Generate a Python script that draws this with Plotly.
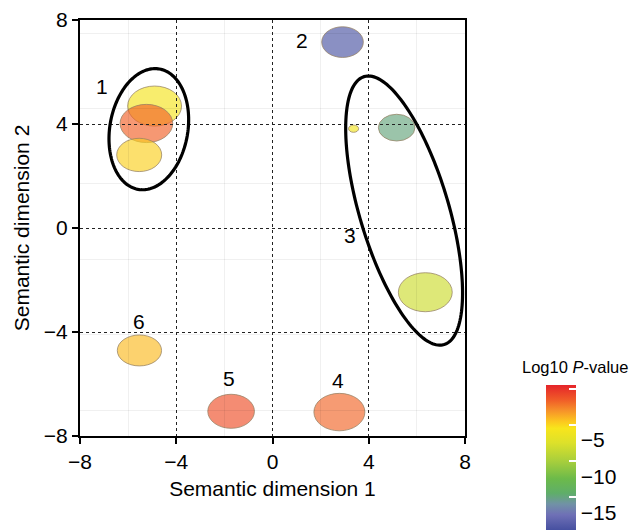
import numpy as np
import plotly.graph_objects as go
from plotly.colors import sample_colorscale

# ---------------- data ----------------
term_x = [-4.90, -5.24, -5.54, 2.91, 3.37, 5.16, 6.35, -5.53, -1.72, 2.78]
term_y = [4.69, 4.02, 2.81, 7.15, 3.82, 3.86, -2.47, -4.71, -7.05, -7.08]
term_w = [2.24, 2.19, 1.87, 1.73, 0.42, 1.52, 2.24, 1.84, 1.94, 2.12]
term_h = [1.54, 1.47, 1.28, 1.18, 0.28, 1.03, 1.50, 1.19, 1.31, 1.44]
log10_p = [-5.8, -1.7, -4.8, -19.3, -6.0, -15.0, -8.3, -4.2, -1.1, -1.8]

cluster_labels = ["1", "2", "3", "4", "5", "6"]
label_x = [-7.1, 1.24, 3.22, 2.71, -1.81, -5.55]
label_y = [5.46, 7.23, -0.27, -5.85, -5.78, -3.60]

outline_cx = [-5.14, 5.47]
outline_cy = [3.80, 0.67]
outline_a = [2.54, 5.81]
outline_b = [1.62, 1.85]
outline_angle = [80.0, 106.6]

x_ticks = [-8, -4, 0, 4, 8]
y_ticks = [-8, -4, 0, 4, 8]
cbar_ticks = [-15, -10, -5, 0]

CMIN, CMAX = -19.6, 0.5

# ---------------- style ----------------
W, H = 631, 530
ML, MR, MT, MB = 80, 166, 20, 94
SX = (W - ML - MR) / 16.0
SY = (H - MT - MB) / 16.0
FONT = "Liberation Sans, Arial, Helvetica, sans-serif"
FS = 21


def hex_rgb(h):
    h = h.lstrip("#")
    return "rgb(%d,%d,%d)" % (int(h[0:2], 16), int(h[2:4], 16), int(h[4:6], 16))


stops = [(-19.6, "#4650a0"), (-17.5, "#6f70b6"), (-16.0, "#7192a6"),
         (-14.5, "#5fae69"), (-12.5, "#6cba4a"), (-10.0, "#a9cf3c"),
         (-7.5, "#dde12a"), (-5.5, "#f8e51c"), (-4.5, "#fcc51f"),
         (-3.0, "#f6902a"), (-1.5, "#f05a28"), (0.5, "#e5242a")]
colorscale = [[(v - CMIN) / (CMAX - CMIN), hex_rgb(c)] for v, c in stops]

fracs = [(v - CMIN) / (CMAX - CMIN) for v in log10_p]
fills = sample_colorscale(colorscale, fracs)


def with_alpha(rgb, a):
    return rgb.replace("rgb(", "rgba(").replace(")", ",%.2f)" % a)


shapes = []
for x, y, w, h, c in zip(term_x, term_y, term_w, term_h, fills):
    shapes.append(dict(type="circle", xref="x", yref="y",
                       x0=x - w / 2, x1=x + w / 2, y0=y - h / 2, y1=y + h / 2,
                       fillcolor=with_alpha(c, 0.65),
                       line=dict(color="rgba(150,130,100,0.75)", width=1),
                       layer="below"))

t = np.linspace(0, 2 * np.pi, 181)
for cx, cy, a, b, ang in zip(outline_cx, outline_cy, outline_a, outline_b, outline_angle):
    th = np.deg2rad(ang)
    dxp = a * SX * np.cos(t) * np.cos(th) - b * SX * np.sin(t) * np.sin(th)
    dyp = a * SX * np.cos(t) * np.sin(th) + b * SX * np.sin(t) * np.cos(th)
    px = cx + dxp / SX
    py = cy + dyp / SY
    path = "M " + " L ".join("%.4f,%.4f" % (u, v) for u, v in zip(px, py)) + " Z"
    shapes.append(dict(type="path", xref="x", yref="y", path=path,
                       line=dict(color="black", width=3.2), layer="above"))

fig = go.Figure()
fig.add_trace(go.Scatter(
    x=term_x, y=term_y, mode="markers",
    marker=dict(size=8, opacity=0, color=log10_p, colorscale=colorscale,
                cmin=CMIN, cmax=CMAX, showscale=True,
                colorbar=dict(x=(546 - ML) / (W - ML - MR), xanchor="left",
                              y=(H - MB - 385) / (H - MT - MB), yanchor="top",
                              thickness=30, lenmode="pixels", len=145,
                              xpad=0, ypad=0, outlinewidth=0,
                              ticks="inside", ticklen=7, tickwidth=1.5,
                              tickcolor="white", ticklabelposition="outside bottom",
                              tickvals=cbar_ticks,
                              ticktext=["\u2212%d" % abs(v) if v else "" for v in cbar_ticks],
                              tickfont=dict(family=FONT, size=FS, color="black"))),
    hovertemplate="(%{x}, %{y})<br>log10 P = %{marker.color}<extra></extra>",
    showlegend=False))

annotations = [dict(x=x, y=y, xref="x", yref="y", text=s, showarrow=False,
                    font=dict(family=FONT, size=FS, color="black"))
               for s, x, y in zip(cluster_labels, label_x, label_y)]
annotations.append(dict(x=(520 - ML) / (W - ML - MR), y=(H - MB - 367) / (H - MT - MB),
                        xref="paper", yref="paper", xanchor="left", yanchor="middle",
                        text="Log10 <i>P</i>-value", showarrow=False,
                        font=dict(family=FONT, size=16.5, color="black")))


def fmt(v):
    return ("\u2212%d" % abs(v)) if v < 0 else str(v)


axis_common = dict(range=[-8, 8], showgrid=True, gridcolor="#222222", griddash="dot",
                   gridwidth=1.4, zeroline=False, showline=True, linecolor="black",
                   linewidth=2, mirror=True, ticks="outside", ticklen=6, tickwidth=1.5,
                   tickcolor="black", tickfont=dict(family=FONT, size=FS, color="black"))

MINOR_GRID = "rgba(0,0,0,0.06)"

fig.update_layout(
    width=W, height=H, margin=dict(l=ML, r=MR, t=MT, b=MB, autoexpand=False),
    paper_bgcolor="white", plot_bgcolor="white",
    font=dict(family=FONT, size=FS, color="black"),
    shapes=shapes, annotations=annotations,
    xaxis=dict(axis_common, tickvals=x_ticks, ticktext=[fmt(v) for v in x_ticks],
               title=dict(text="Semantic dimension 1", standoff=9,
                          font=dict(family=FONT, size=FS, color="black")),
               minor=dict(tickvals=[-6, -2, 2, 6], showgrid=True, gridcolor=MINOR_GRID,
                          gridwidth=1, griddash="solid")),
    yaxis=dict(axis_common, tickvals=y_ticks, ticktext=[fmt(v) for v in y_ticks],
               title=dict(text="Semantic dimension 2", standoff=8,
                          font=dict(family=FONT, size=FS, color="black")),
               minor=dict(tickvals=[-7.0, -4.1, -1.2, 1.7, 4.6, 7.5], showgrid=True,
                          gridcolor=MINOR_GRID, gridwidth=1, griddash="solid")),
)

fig.write_html("out.html")
